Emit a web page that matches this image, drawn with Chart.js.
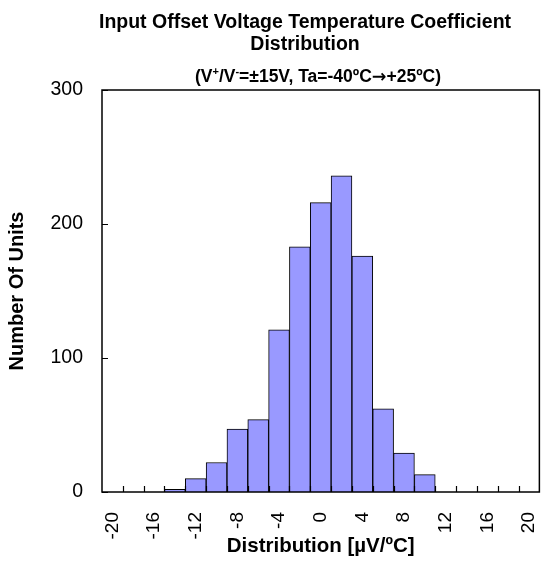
<!DOCTYPE html>
<html>
<head>
<meta charset="utf-8">
<script src="https://cdn.jsdelivr.net/npm/chart.js@4.4.1/dist/chart.umd.min.js"></script>
<style>
  html, body { margin: 0; padding: 0; background: #fff; overflow: hidden; }
  #wrap { width: 560px; height: 569px; overflow: hidden; }
</style>
</head>
<body>
<div id="wrap"><canvas id="histChart" width="572" height="569"></canvas></div>
<script>
const categories = ["-20", "-18", "-16", "-14", "-12", "-10", "-8", "-6", "-4", "-2", "0",
  "2", "4", "6", "8", "10", "12", "14", "16", "18", "20"];
const counts = [0, 0, 0, 2, 10, 22, 47, 54, 121, 183, 216, 236, 176, 62, 29, 13, 0, 0, 0, 0, 0];
const yTicks = [0, 100, 200, 300];

Chart.defaults.font.family = "'Liberation Sans', Arial, sans-serif";
Chart.defaults.color = "#000";

// frame, inward tick marks and the title block
const frame = {
  id: "frame",
  afterDraw(chart) {
    const { ctx, chartArea: a, scales: { x, y } } = chart;
    ctx.save();
    ctx.strokeStyle = "#000";
    ctx.lineWidth = 1.5;
    ctx.strokeRect(a.left, a.top, a.right - a.left, a.bottom - a.top);

    ctx.lineWidth = 1.2;
    ctx.beginPath();
    const w = (x.right - x.left) / categories.length;
    for (let i = 1; i < categories.length; i++) {
      const px = Math.round(x.left + i * w) + 0.5;
      ctx.moveTo(px, a.bottom);
      ctx.lineTo(px, a.bottom - 6);
    }
    yTicks.forEach(v => {
      const py = Math.round(y.getPixelForValue(v)) + 0.5;
      ctx.moveTo(a.left, py);
      ctx.lineTo(a.left + 6, py);
    });
    ctx.stroke();

    const cx = 305;
    ctx.fillStyle = "#000";
    ctx.textAlign = "center";
    ctx.textBaseline = "alphabetic";
    ctx.font = "bold 19.5px 'Liberation Sans', Arial, sans-serif";
    ctx.fillText("Input Offset Voltage Temperature Coefficient", cx, 28);
    ctx.fillText("Distribution", cx, 50);

    // subtitle with superscripts
    const big = "bold 17.5px 'Liberation Sans', Arial, sans-serif";
    const small = "bold 11px 'Liberation Sans', Arial, sans-serif";
    const arrow = "bold 17.5px 'DejaVu Sans', sans-serif";
    const parts = [
      { t: "(V", f: big, dy: 0 }, { t: "+", f: small, dy: -7 }, { t: "/V", f: big, dy: 0 },
      { t: "-", f: small, dy: -7 }, { t: "=\u00b115V, Ta=-40\u00baC", f: big, dy: 0 },
      { t: "\u2192", f: arrow, dy: 0 }, { t: "+25\u00baC)", f: big, dy: 0 }
    ];
    let total = 0;
    parts.forEach(p => { ctx.font = p.f; p.w = ctx.measureText(p.t).width; total += p.w; });
    let sx = 318 - total / 2;
    ctx.textAlign = "left";
    parts.forEach(p => {
      ctx.font = p.f;
      ctx.fillText(p.t, sx, 82 + p.dy);
      sx += p.w;
    });
    ctx.restore();
  }
};

new Chart(document.getElementById("histChart").getContext("2d"), {
  type: "bar",
  data: {
    labels: categories,
    datasets: [{
      data: counts,
      backgroundColor: "#9999FF",
      borderColor: "#000",
      borderWidth: 1,
      categoryPercentage: 1,
      barPercentage: 1
    }]
  },
  options: {
    responsive: false,
    animation: false,
    layout: { padding: { top: 90, right: 10, left: 0, bottom: 0 } },
    plugins: {
      legend: { display: false },
      tooltip: { enabled: false }
    },
    scales: {
      x: {
        grid: { display: false, drawTicks: false },
        border: { display: false },
        ticks: {
          autoSkip: false,
          minRotation: 90,
          maxRotation: 90,
          padding: 20,
          font: { size: 19 },
          callback: (v, i) => (i % 2 === 0 ? categories[i] : "")
        },
        title: {
          display: true,
          text: "Distribution [\u00b5V/\u00baC]",
          font: { size: 20.5, weight: "bold" },
          padding: { top: 0, bottom: 10 }
        },
        afterFit: s => { s.height = 77; }
      },
      y: {
        min: 0,
        max: 300,
        grid: { display: false, drawTicks: false },
        border: { display: false },
        ticks: { stepSize: 100, padding: 19, font: { size: 19.5 } },
        title: {
          display: true,
          text: "Number Of Units",
          font: { size: 20, weight: "bold" },
          padding: { top: 5, bottom: 0 }
        },
        afterFit: s => { s.width = 102; }
      }
    }
  },
  plugins: [frame]
});
</script>
</body>
</html>
